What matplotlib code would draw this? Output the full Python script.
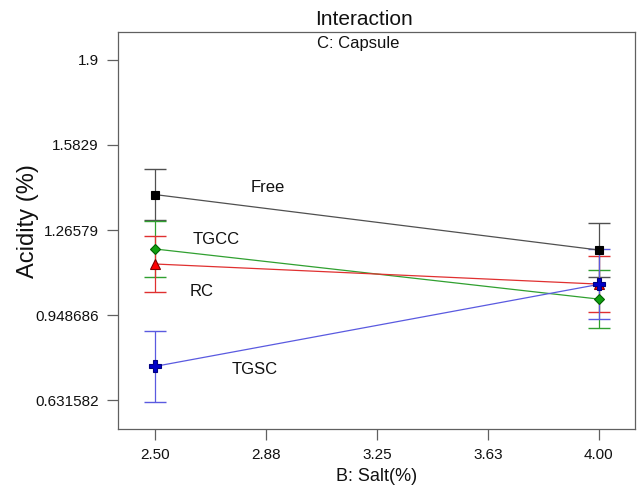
import matplotlib
matplotlib.use("Agg")
import matplotlib.pyplot as plt

plt.rcParams['font.family'] = ['Liberation Sans', 'DejaVu Sans']

# Data
salt = [2.50, 4.00]
series_names = ["Free", "TGCC", "RC", "TGSC"]
free_vals = [1.398, 1.191]
tgcc_vals = [1.195, 1.008]
rc_vals = [1.139, 1.064]
tgsc_vals = [0.757, 1.063]
free_err = [0.096, 0.100]
tgcc_err = [0.106, 0.107]
rc_err = [0.104, 0.104]
tgsc_err = [0.132, 0.131]

xtick_vals = [2.5, 2.875, 3.25, 3.625, 4.0]
xtick_labels = ["2.50", "2.88", "3.25", "3.63", "4.00"]
ytick_vals = [0.631582, 0.948686, 1.26579, 1.5829, 1.9]
ytick_labels = ["0.631582", "0.948686", "1.26579", "1.5829", "1.9"]

fig = plt.figure(figsize=(6.37, 4.92), dpi=100)
ax = fig.add_axes([0.1852, 0.128, 0.8117, 0.807])

styles = {
    "Free": dict(line="#505050", marker="s", mfc="#000000", mec="#000000", ms=6, ecol="#505050"),
    "TGCC": dict(line="#30a030", marker="D", mfc="#10a010", mec="#006000", ms=5.5, ecol="#30a030"),
    "RC": dict(line="#e03030", marker="^", mfc="#ff0000", mec="#800000", ms=7, ecol="#e03030"),
    "TGSC": dict(line="#5a5ae0", marker="P", mfc="#0000c8", mec="#000080", ms=8, ecol="#5a5ae0"),
}
data = {"Free": (free_vals, free_err), "TGCC": (tgcc_vals, tgcc_err),
        "RC": (rc_vals, rc_err), "TGSC": (tgsc_vals, tgsc_err)}

for name in series_names:
    vals, errs = data[name]
    s = styles[name]
    ax.errorbar(salt, vals, yerr=errs, fmt='none', ecolor=s["ecol"], elinewidth=0.9,
                capsize=8, capthick=1.0, zorder=2)
    ax.plot(salt, vals, color=s["line"], lw=0.9, zorder=3)
    ax.plot(salt, vals, linestyle='none', marker=s["marker"], mfc=s["mfc"], mec=s["mec"],
            ms=s["ms"], mew=0.8, zorder=4)

label_pos = {"Free": (2.880, 1.4225), "TGCC": (2.708, 1.2322), "RC": (2.659, 1.0356), "TGSC": (2.838, 0.7472)}
for name in series_names:
    x, y = label_pos[name]
    ax.text(x, y, name, ha='center', va='center', fontsize=12, color='#111111')

ax.set_xlim(2.375, 4.122)
ax.set_ylim(0.5234, 2.0045)
ax.set_xticks(xtick_vals)
ax.set_xticklabels(xtick_labels)
ax.set_yticks(ytick_vals)
ax.set_yticklabels(ytick_labels)
ax.tick_params(axis='both', direction='out', length=8, width=0.9, color='#606060',
               labelsize=11, pad=6, labelcolor='#111111')
for sp in ax.spines.values():
    sp.set_color('#606060')
    sp.set_linewidth(0.9)

ax.set_xlabel("B: Salt(%)", fontsize=13, labelpad=4, color='#111111')
ax.set_ylabel("Acidity (%)", fontsize=17, color='#111111')
ax.yaxis.set_label_coords(-0.153, 0.523)
ax.set_title("Interaction", fontsize=15, x=0.476, pad=5, color='#111111')
ax.text(0.464, 0.97, "C: Capsule", transform=ax.transAxes, ha='center', va='center',
        fontsize=12, color='#111111')

fig.savefig("out.png", dpi=100)
